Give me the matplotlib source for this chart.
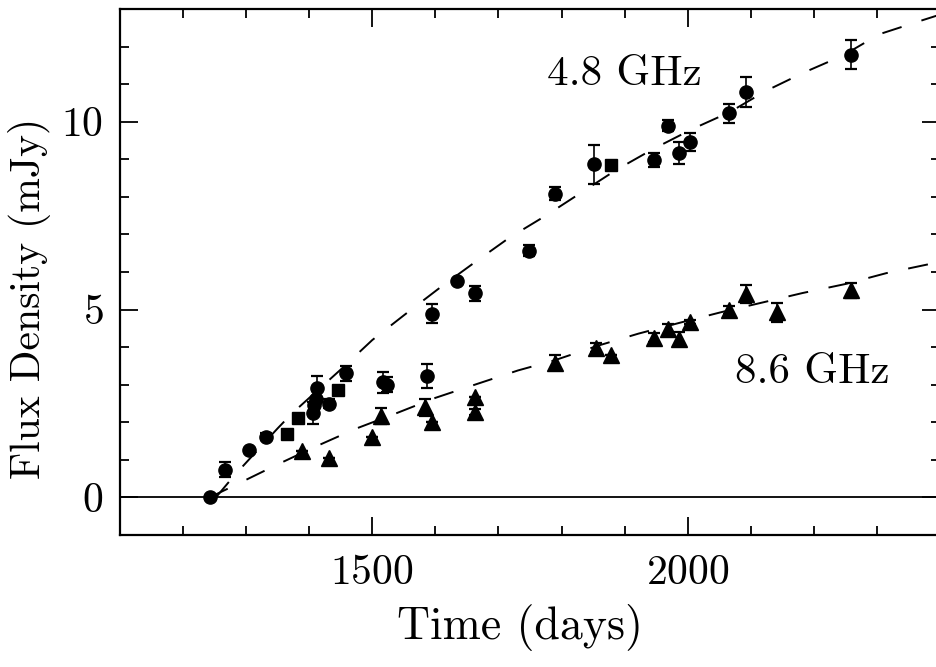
import numpy as np
import matplotlib
matplotlib.use("Agg")
from matplotlib import pyplot as plt
from matplotlib.ticker import MultipleLocator

plt.rcParams['font.family'] = ['cmr10', 'DejaVu Serif']
plt.rcParams['axes.formatter.use_mathtext'] = True
plt.rcParams['lines.scale_dashes'] = False

# 4.8 GHz measurements (circles)
t_48 = [1242, 1267, 1304, 1332, 1406, 1408, 1410, 1413, 1431, 1459, 1517, 1523,
        1587, 1594, 1635, 1663, 1749, 1789, 1852, 1946, 1968, 1986, 2003, 2066,
        2093, 2259]
s_48 = [0.0, 0.74, 1.27, 1.62, 2.25, 2.45, 2.62, 2.90, 2.49, 3.31, 3.07, 3.00,
        3.23, 4.89, 5.77, 5.44, 6.57, 8.08, 8.87, 8.98, 9.89, 9.16, 9.47, 10.22,
        10.78, 11.78]
e_48 = [0.0, 0.2, 0.0, 0.1, 0.3, 0.0, 0.0, 0.33, 0.12, 0.2, 0.28, 0.2,
        0.31, 0.25, 0.0, 0.2, 0.15, 0.17, 0.52, 0.18, 0.15, 0.29, 0.24, 0.25,
        0.4, 0.39]

# 4.8 GHz measurements (squares)
t_48sq = [1365, 1382, 1445, 1878]
s_48sq = [1.68, 2.12, 2.86, 8.85]

# 8.6 GHz measurements (triangles)
t_86 = [1388, 1431, 1500, 1514, 1584, 1594, 1663, 1663, 1789, 1854, 1878, 1947,
        1969, 1986, 2003, 2066, 2092, 2141, 2259]
s_86 = [1.23, 1.05, 1.60, 2.17, 2.40, 2.00, 2.67, 2.27, 3.58, 3.99, 3.80, 4.25,
        4.48, 4.22, 4.67, 4.99, 5.42, 4.93, 5.52]
e_86 = [0.0, 0.0, 0.0, 0.21, 0.22, 0.0, 0.0, 0.08, 0.2, 0.12, 0.0, 0.12,
        0.14, 0.18, 0.05, 0.1, 0.24, 0.25, 0.2]

# model curves
fit_t_48 = [1252, 1281, 1350, 1373, 1451, 1500, 1551, 1607, 1661, 1717, 1775,
            1830, 1886, 1946, 2008, 2066, 2124, 2183, 2246, 2304, 2370, 2400]
fit_s_48 = [0.0, 0.58, 1.84, 2.24, 3.42, 4.19, 4.86, 5.58, 6.24, 6.91, 7.50,
            8.10, 8.71, 9.28, 9.81, 10.25, 10.82, 11.30, 11.76, 12.33, 12.69, 12.85]
fit_t_86 = [1242, 1289, 1350, 1411, 1474, 1535, 1600, 1666, 1731, 1789, 1858,
            1922, 1990, 2053, 2119, 2182, 2250, 2315, 2383, 2400]
fit_s_86 = [0.0, 0.38, 0.88, 1.36, 1.83, 2.22, 2.65, 3.02, 3.38, 3.65, 4.04,
            4.36, 4.66, 4.93, 5.19, 5.44, 5.68, 5.97, 6.21, 6.26]

fig = plt.figure(figsize=(9.37, 6.67), dpi=100)
ax = fig.add_axes([120 / 937, 132 / 667, 820 / 937, 526 / 667])

ax.axhline(0, color='black', lw=1.3)
ax.plot(fit_t_48, fit_s_48, color='black', lw=1.4, dashes=(14.5, 15))
ax.plot(fit_t_86, fit_s_86, color='black', lw=1.4, dashes=(14.5, 15))

ax.errorbar(t_48, s_48, yerr=e_48, fmt='o', color='black', ms=9.5,
            capsize=4.5, elinewidth=1.2, capthick=1.6)
ax.plot(t_48sq, s_48sq, 's', color='black', ms=8)
ax.errorbar(t_86, s_86, yerr=e_86, fmt='^', color='black', ms=12,
            capsize=4.5, elinewidth=1.2, capthick=1.6)

ax.text(1900, 11.25, '4.8 GHz', fontsize=31, ha='center', va='center')
ax.text(2198, 3.32, '8.6 GHz', fontsize=31, ha='center', va='center')

ax.set_xlim(1100, 2400)
ax.set_ylim(-1, 13)
ax.xaxis.set_major_locator(MultipleLocator(500))
ax.xaxis.set_minor_locator(MultipleLocator(100))
ax.yaxis.set_major_locator(MultipleLocator(5))
ax.yaxis.set_minor_locator(MultipleLocator(1))
ax.tick_params(which='both', direction='in', top=True, right=True, width=1.3,
               labelsize=30)
ax.tick_params(which='major', length=13)
ax.tick_params(which='minor', length=6.5)
ax.tick_params(axis='x', pad=14)
ax.tick_params(axis='y', pad=12)
for sp in ax.spines.values():
    sp.set_linewidth(1.6)

ax.set_xlabel('Time (days)', fontsize=33)
ax.set_ylabel('Flux Density (mJy)', fontsize=30)
ax.xaxis.set_label_coords(0.488, -0.175)
ax.yaxis.set_label_coords(-0.11, 0.449)
ax.xaxis.label.set_va('center')
ax.yaxis.label.set_va('center')

fig.savefig('out.png', dpi=100)
